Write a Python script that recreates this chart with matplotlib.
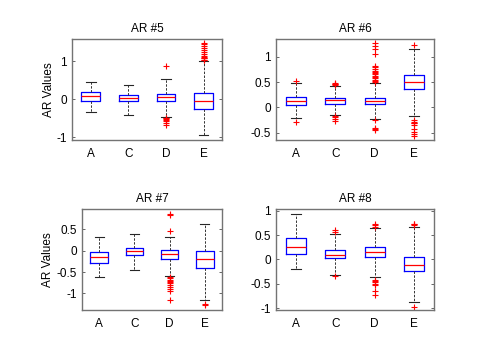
import matplotlib
matplotlib.use("Agg")
import matplotlib.pyplot as plt

plt.rcParams['font.family'] = ['Liberation Sans', 'DejaVu Sans']

groups = ['A', 'C', 'D', 'E']
titles = ['AR #5', 'AR #6', 'AR #7', 'AR #8']

# per subplot: [whislo, q1, med, q3, whishi] for A, C, D, E
stats5 = [[-0.33, -0.03, 0.08, 0.19, 0.45],
          [-0.42, -0.05, 0.035, 0.12, 0.38],
          [-0.46, -0.05, 0.05, 0.15, 0.54],
          [-0.95, -0.24, -0.045, 0.18, 1.0]]
fliers5 = [[], [],
           [0.89, -0.48, -0.5, -0.52, -0.55, -0.58, -0.62, -0.68],
           [1.03, 1.05, 1.08, 1.1, 1.12, 1.15, 1.2, 1.25, 1.3, 1.35, 1.4, 1.45, 1.48]]

stats6 = [[-0.217, 0.04, 0.125, 0.197, 0.48],
          [-0.145, 0.07, 0.14, 0.19, 0.42],
          [-0.22, 0.06, 0.125, 0.19, 0.48],
          [-0.17, 0.355, 0.51, 0.645, 1.16]]
fliers6 = [[0.52, -0.28],
           [0.45, 0.46, 0.47, 0.49, -0.18, -0.2, -0.22, -0.26],
           [0.5, 0.52, 0.55, 0.57, 0.6, 0.62, 0.65, 0.68, 0.7, 0.72, 0.75, 0.8, 0.82,
            1.05, 1.15, 1.22, 1.27, -0.25, -0.4, -0.42, -0.45],
           [1.23, -0.25, -0.28, -0.3, -0.31, -0.35, -0.42, -0.48, -0.52, -0.57]]

stats7 = [[-0.61, -0.285, -0.146, -0.023, 0.31],
          [-0.446, -0.1, -0.01, 0.07, 0.385],
          [-0.59, -0.185, -0.085, 0.008, 0.323],
          [-1.16, -0.4, -0.19, 0.0, 0.615]]
fliers7 = [[], [],
           [0.455, 0.83, 0.85, -0.62, -0.65, -0.68, -0.7, -0.73, -0.76, -0.8,
            -0.85, -0.9, -0.95, -1.15],
           [-1.25, -1.28]]

stats8 = [[-0.205, 0.1, 0.26, 0.43, 0.94],
          [-0.316, 0.02, 0.095, 0.185, 0.527],
          [-0.357, 0.055, 0.15, 0.26, 0.65],
          [-0.87, -0.247, -0.11, 0.055, 0.66]]
fliers8 = [[],
           [0.56, 0.6, -0.35],
           [0.67, 0.7, 0.72, -0.42, -0.45, -0.47, -0.5, -0.52, -0.66, -0.73],
           [0.7, 0.72, 0.73, -0.97]]

all_stats = [stats5, stats6, stats7, stats8]
all_fliers = [fliers5, fliers6, fliers7, fliers8]
ylims = [(-1.07, 1.59), (-0.645, 1.35), (-1.385, 0.97), (-1.04, 1.035)]
yticks = [[-1, 0, 1], [-0.5, 0, 0.5, 1], [-1, -0.5, 0, 0.5], [-1, -0.5, 0, 0.5, 1]]

positions = [[0.150, 0.611, 0.3135, 0.2807],
             [0.575, 0.611, 0.329, 0.2807],
             [0.170, 0.139, 0.2935, 0.2805],
             [0.575, 0.139, 0.329, 0.2805]]

fig = plt.figure(figsize=(4.8, 3.6), dpi=100)

for k in range(4):
    ax = fig.add_axes(positions[k])
    bstats = []
    for g, s, f in zip(groups, all_stats[k], all_fliers[k]):
        bstats.append(dict(label=g, whislo=s[0], q1=s[1], med=s[2], q3=s[3],
                           whishi=s[4], fliers=f))
    ax.bxp(bstats, positions=[1, 2, 3, 4], widths=0.5,
           boxprops=dict(color='#0000ff', lw=0.9),
           medianprops=dict(color='#ff0000', lw=0.9),
           whiskerprops=dict(color='0.2', lw=0.7, ls=(0, (2.5, 1.5))),
           capprops=dict(color='0.15', lw=0.8),
           capwidths=0.25,
           flierprops=dict(marker='+', markeredgecolor='#ff0000', markersize=4,
                           markeredgewidth=0.8, linestyle='none'))
    ax.set_xlim(0.5, 4.5)
    ax.set_ylim(*ylims[k])
    ax.set_yticks(yticks[k])
    ax.set_yticklabels([('%g' % v) for v in yticks[k]])
    ax.set_title(titles[k], fontsize=8.5, pad=5)
    ax.tick_params(direction='in', length=2.5, width=0.6, labelsize=8.5,
                   top=True, right=True, colors='0.3', labelcolor='black')
    ax.tick_params(axis='x', top=False, length=0, pad=6)
    for sp in ax.spines.values():
        sp.set_color('0.45')
        sp.set_linewidth(1.0)
    if k in (0, 2):
        ax.set_ylabel('AR Values', fontsize=8.5, labelpad=1.5)

fig.savefig('out.png', dpi=100)
